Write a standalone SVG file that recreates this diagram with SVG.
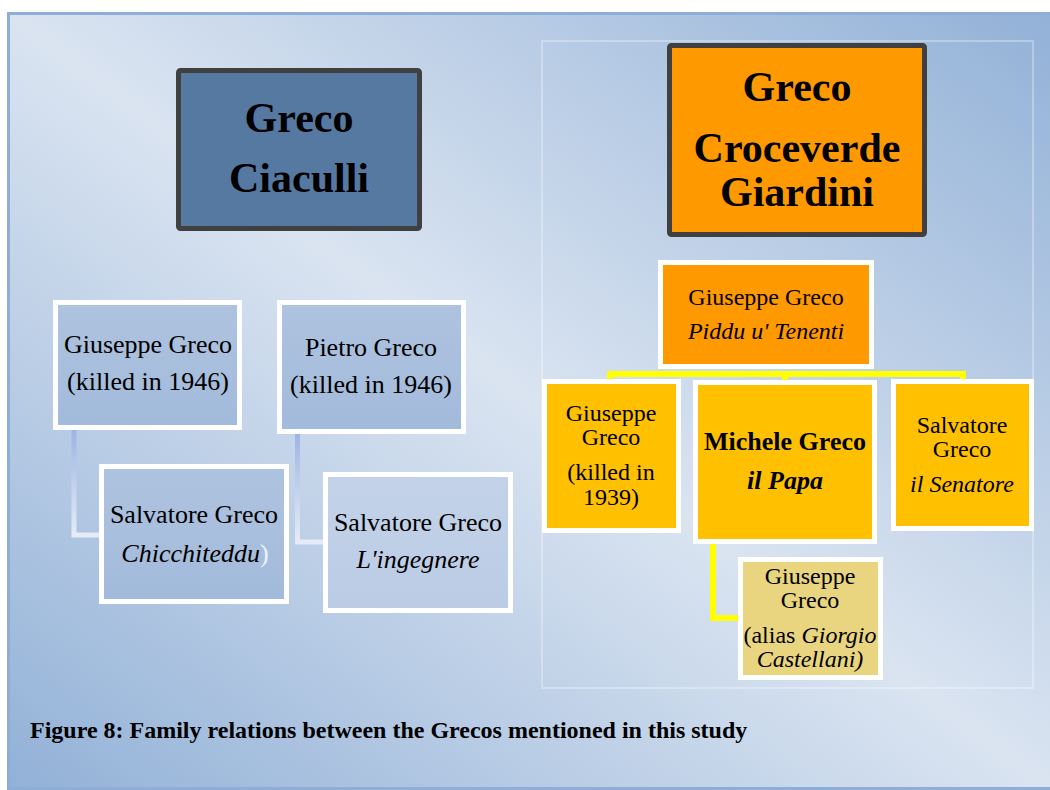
<svg xmlns="http://www.w3.org/2000/svg" width="1050" height="790" viewBox="0 0 1050 790">
  <defs>
    <linearGradient id="bg" x1="1" y1="0" x2="0" y2="1">
      <stop offset="0" stop-color="#92b1d7"/>
      <stop offset="0.5" stop-color="#dae4f1"/>
      <stop offset="1" stop-color="#92b1d7"/>
    </linearGradient>
    <linearGradient id="blueBox" x1="0" y1="0" x2="0" y2="1">
      <stop offset="0" stop-color="#aec3df"/>
      <stop offset="1" stop-color="#a2badb"/>
    </linearGradient>
    <linearGradient id="blueBoxLight" x1="0" y1="0" x2="0" y2="1">
      <stop offset="0" stop-color="#c3d2e8"/>
      <stop offset="1" stop-color="#bbcce5"/>
    </linearGradient>
    <linearGradient id="blueLink" x1="0" y1="0" x2="0" y2="1">
      <stop offset="0" stop-color="#9db4e3"/>
      <stop offset="1" stop-color="#e6ecf7"/>
    </linearGradient>
  </defs>
  <style>
    text { font-family: "Liberation Serif", "Times New Roman", serif; fill: #000; text-anchor: middle; }
    .hdr { font-size: 42px; font-weight: bold; }
    .hbox { stroke: #404040; stroke-width: 5; }
    .wbox { stroke: #ffffff; stroke-width: 5; }
    .t26 { font-size: 26px; }
    .t24 { font-size: 24px; }
    .it { font-style: italic; }
    .b { font-weight: bold; }
    .ylink { fill: none; stroke: #ffff00; stroke-width: 6; }
    .blink { fill: none; stroke: url(#blueLink); stroke-width: 5; }
    .caption { font-size: 24px; font-weight: bold; text-anchor: start; }
  </style>

  <!-- background frame -->
  <rect x="8.5" y="13.5" width="1045" height="775" fill="url(#bg)" stroke="#8eaed7" stroke-width="3"/>
  <rect x="542" y="41" width="491" height="647" fill="none" stroke="#ffffff" stroke-opacity="0.3" stroke-width="2"/>

  <!-- connectors -->
  <g id="connectors">
    <path class="blink" d="M74,430 V535 H101"/>
    <path class="blink" d="M297.5,434 V542 H325"/>
    <path class="ylink" d="M610,381 V374 H963 V381"/>
    <path class="ylink" d="M785,374 V381"/>
    <path class="ylink" d="M713,542 V618 H740" stroke-width="5"/>
  </g>

  <!-- headers -->
  <g id="hdr-ciaculli">
    <rect class="hbox" x="178.5" y="70.5" width="241" height="158" rx="2" fill="#5679a2"/>
    <text class="hdr" x="299" y="132">Greco</text>
    <text class="hdr" x="299" y="192">Ciaculli</text>
  </g>
  <g id="hdr-croceverde">
    <rect class="hbox" x="669.5" y="45.5" width="255" height="189" rx="2" fill="#ff9900"/>
    <text class="hdr" x="797" y="101">Greco</text>
    <text class="hdr" x="797" y="162">Croceverde</text>
    <text class="hdr" x="797" y="206">Giardini</text>
  </g>

  <!-- left tree -->
  <g id="n-giuseppe-1946">
    <rect class="wbox" x="55.5" y="302.5" width="184" height="125" fill="url(#blueBox)"/>
    <text class="t26" x="148" y="353">Giuseppe Greco</text>
    <text class="t26" x="148" y="390">(killed in 1946)</text>
  </g>
  <g id="n-pietro">
    <rect class="wbox" x="279.5" y="302.5" width="184" height="129" fill="url(#blueBox)"/>
    <text class="t26" x="371" y="356">Pietro Greco</text>
    <text class="t26" x="371" y="393">(killed in 1946)</text>
  </g>
  <g id="n-salvatore-chicchiteddu">
    <rect class="wbox" x="101.5" y="466.5" width="185" height="135" fill="url(#blueBox)"/>
    <text class="t26" x="194" y="523">Salvatore Greco</text>
    <text class="t26" x="195" y="562"><tspan class="it">Chicchiteddu</tspan><tspan fill="#eef3fa">)</tspan></text>
  </g>
  <g id="n-salvatore-ingegnere">
    <rect class="wbox" x="325.5" y="474.5" width="185" height="136" fill="url(#blueBoxLight)"/>
    <text class="t26" x="418" y="531">Salvatore Greco</text>
    <text class="t26 it" x="418" y="568">L'ingegnere</text>
  </g>

  <!-- right tree -->
  <g id="n-piddu">
    <rect class="wbox" x="660.5" y="262.5" width="211" height="104" fill="#ff9900"/>
    <text class="t24" x="766" y="305">Giuseppe Greco</text>
    <text class="t24 it" x="766" y="339">Piddu u' Tenenti</text>
  </g>
  <g id="n-giuseppe-1939">
    <rect class="wbox" x="544.5" y="381.5" width="134" height="149" fill="#ffc000"/>
    <text class="t24" x="611" y="421">Giuseppe</text>
    <text class="t24" x="611" y="445">Greco</text>
    <text class="t24" x="611" y="480">(killed in</text>
    <text class="t24" x="611" y="505">1939)</text>
  </g>
  <g id="n-michele">
    <rect class="wbox" x="695.5" y="382.5" width="179" height="159" fill="#ffc000"/>
    <text class="t26 b" x="785" y="450">Michele Greco</text>
    <text class="t26 b it" x="785" y="489">il Papa</text>
  </g>
  <g id="n-salvatore-senatore">
    <rect class="wbox" x="893.5" y="381.5" width="138" height="147" fill="#ffc000"/>
    <text class="t24" x="962" y="433">Salvatore</text>
    <text class="t24" x="962" y="457">Greco</text>
    <text class="t24 it" x="962" y="492">il Senatore</text>
  </g>
  <g id="n-castellani">
    <rect class="wbox" x="740.5" y="559.5" width="140" height="118" fill="#e9d57f"/>
    <text class="t24" x="810" y="584">Giuseppe</text>
    <text class="t24" x="810" y="608">Greco</text>
    <text class="t24" x="810" y="643">(alias <tspan class="it">Giorgio</tspan></text>
    <text class="t24 it" x="810" y="667">Castellani)</text>
  </g>

  <text class="caption" x="30" y="738">Figure 8: Family relations between the Grecos mentioned in this study</text>
</svg>
